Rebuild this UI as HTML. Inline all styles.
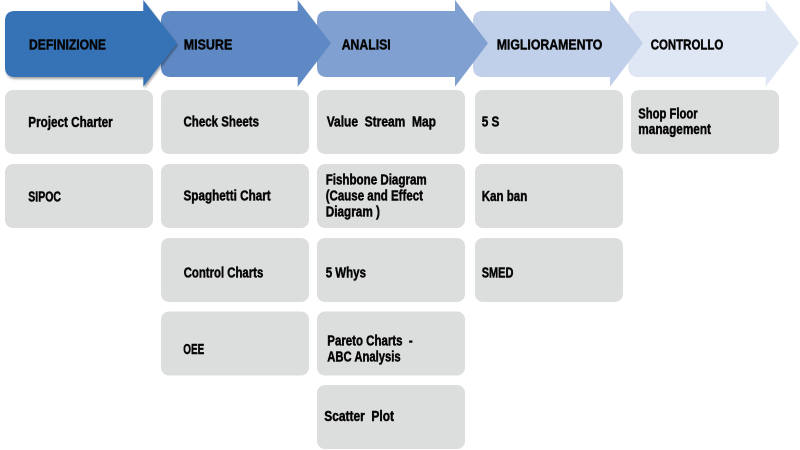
<!DOCTYPE html>
<html><head><meta charset="utf-8"><style>
html,body{margin:0;padding:0;background:#fff;width:800px;height:450px;overflow:hidden}
svg{display:block}
text{font-family:"Liberation Sans Narrow","Liberation Sans",sans-serif;font-weight:bold;font-size:14.3px;fill:#050505;stroke:#050505;stroke-width:0.45px;white-space:pre}
</style></head><body>
<svg width="800" height="450" viewBox="0 0 800 450" xmlns="http://www.w3.org/2000/svg" xml:space="preserve">
<defs>
<filter id="sh" x="-10%" y="-10%" width="130%" height="130%">
<feDropShadow dx="1" dy="2" stdDeviation="1" flood-color="#000" flood-opacity="0.35"/>
</filter>
</defs>
<path d="M638,11 L765.7,11 L765.7,0 L799,43.3 L765.7,86.7 L765.7,77 L638,77 Q628.3,77 628.3,67 L628.3,21 Q628.3,11 638,11 Z" fill="#e0e7f4"/>
<path d="M483,11 L610,11 L610,0 L643,43.3 L610,86.7 L610,77 L483,77 Q473,77 473,67 L473,21 Q473,11 483,11 Z" fill="#c1d0ea"/>
<path d="M327,11 L455,11 L455,0 L488,43.3 L455,86.7 L455,77 L327,77 Q317,77 317,67 L317,21 Q317,11 327,11 Z" fill="#7fa0d1"/>
<path d="M171,11 L297.7,11 L297.7,0 L331,43.3 L297.7,86.7 L297.7,77 L171,77 Q161,77 161,67 L161,21 Q161,11 171,11 Z" fill="#5f89c5"/>
<path d="M15,11 L143.3,11 L143.3,0 L177,43.3 L143.3,86.7 L143.3,77 L15,77 Q5,77 5,67 L5,21 Q5,11 15,11 Z" fill="#3673b6" filter="url(#sh)"/>

<text x="29" y="49.3" textLength="77" lengthAdjust="spacingAndGlyphs">DEFINIZIONE</text>
<text x="183.7" y="49.3" textLength="48.6" lengthAdjust="spacingAndGlyphs">MISURE</text>
<text x="341.7" y="49.3" textLength="49" lengthAdjust="spacingAndGlyphs">ANALISI</text>
<text x="496.7" y="49.3" textLength="105.6" lengthAdjust="spacingAndGlyphs">MIGLIORAMENTO</text>
<text x="650.7" y="49.3" textLength="72.6" lengthAdjust="spacingAndGlyphs">CONTROLLO</text>

<g fill="#dcdddd">
<rect x="5" y="90" width="148" height="64" rx="8"/>
<rect x="5" y="164" width="148" height="64" rx="8"/>
<rect x="161" y="90" width="148" height="64" rx="8"/>
<rect x="161" y="164" width="148" height="64" rx="8"/>
<rect x="161" y="238" width="148" height="64" rx="8"/>
<rect x="161" y="311.5" width="148" height="64" rx="8"/>
<rect x="317" y="90" width="148" height="64" rx="8"/>
<rect x="317" y="164" width="148" height="64" rx="8"/>
<rect x="317" y="238" width="148" height="64" rx="8"/>
<rect x="317" y="311.5" width="148" height="64" rx="8"/>
<rect x="317" y="385" width="148" height="64" rx="8"/>
<rect x="475" y="90" width="148" height="64" rx="8"/>
<rect x="475" y="164" width="148" height="64" rx="8"/>
<rect x="475" y="238" width="148" height="64" rx="8"/>
<rect x="631" y="90" width="148" height="64" rx="8"/>
</g>

<text x="28.3" y="127" textLength="84.4" lengthAdjust="spacingAndGlyphs">Project Charter</text>
<text x="28.3" y="201.7" textLength="32.7" lengthAdjust="spacingAndGlyphs">SIPOC</text>

<text x="183.5" y="126.3" textLength="75.5" lengthAdjust="spacingAndGlyphs">Check Sheets</text>
<text x="183.5" y="200.7" textLength="87.2" lengthAdjust="spacingAndGlyphs">Spaghetti Chart</text>
<text x="183.7" y="277.3" textLength="79.6" lengthAdjust="spacingAndGlyphs">Control Charts</text>
<text x="183.3" y="354" textLength="21" lengthAdjust="spacingAndGlyphs">OEE</text>

<text x="326.7" y="126.3" textLength="109.3" lengthAdjust="spacingAndGlyphs">Value  Stream  Map</text>
<text x="325.7" y="184.5" textLength="101" lengthAdjust="spacingAndGlyphs">Fishbone Diagram</text>
<text x="325.7" y="200.5" textLength="97.3" lengthAdjust="spacingAndGlyphs">(Cause and Effect</text>
<text x="325.7" y="216.3" textLength="54.3" lengthAdjust="spacingAndGlyphs">Diagram )</text>
<text x="325.7" y="277.7" textLength="40.3" lengthAdjust="spacingAndGlyphs">5 Whys</text>
<text x="327.3" y="345.7" textLength="85.4" lengthAdjust="spacingAndGlyphs">Pareto Charts  -</text>
<text x="327.3" y="361.7" textLength="73.4" lengthAdjust="spacingAndGlyphs">ABC Analysis</text>
<text x="324.3" y="421" textLength="69.7" lengthAdjust="spacingAndGlyphs">Scatter  Plot</text>

<text x="481.7" y="126.3" textLength="17.6" lengthAdjust="spacingAndGlyphs">5 S</text>
<text x="481.7" y="201" textLength="45.6" lengthAdjust="spacingAndGlyphs">Kan ban</text>
<text x="481.7" y="277.5" textLength="31.7" lengthAdjust="spacingAndGlyphs">SMED</text>

<text x="638.3" y="118.5" textLength="59.4" lengthAdjust="spacingAndGlyphs">Shop Floor</text>
<text x="638.3" y="134" textLength="72.7" lengthAdjust="spacingAndGlyphs">management</text>
</svg>
</body></html>
